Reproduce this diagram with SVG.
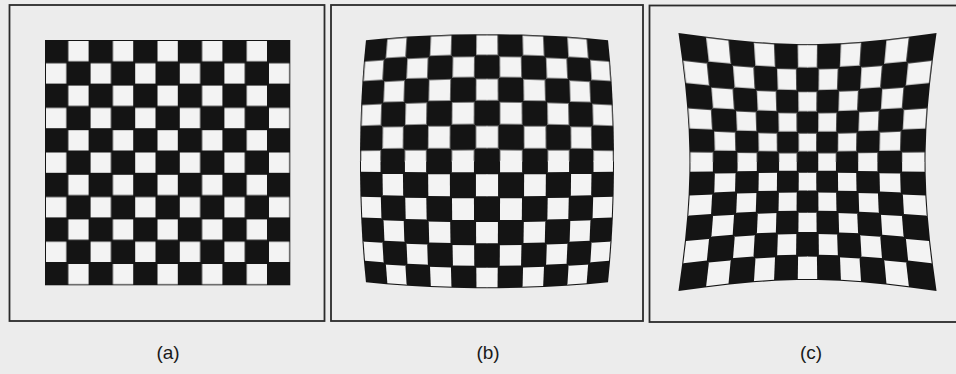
<svg xmlns="http://www.w3.org/2000/svg" xmlns:xlink="http://www.w3.org/1999/xlink" width="956" height="374" viewBox="0 0 956 374">
<style>
.frame{fill:none;stroke:#2b2b2b;stroke-width:1.8}
.blk{fill:#141414}
.wht{fill:#f3f3f3}
.lbl{font-family:"Liberation Sans",Arial,sans-serif;font-size:19px;fill:#1a1a1a;text-anchor:middle}
</style>
<defs>
<pattern id="chk" patternUnits="userSpaceOnUse" x="45" y="40" width="44.6" height="44.6">
<rect class="wht" x="23.3" y="1" width="20.3" height="20.3"/>
<rect class="wht" x="1" y="23.3" width="20.3" height="20.3"/>
</pattern>
<filter id="bleed" x="-5%" y="-5%" width="110%" height="110%">
<feMorphology operator="erode" radius="0.9"/>
</filter>
<!-- barrel quadrant white cells (unit coords x100) -->
<g id="bq-white" class="wht">
<polygon points="9.09,-1 27.18,-1 27.17,9.06 9.08,9.08"/>
<polygon points="45.03,-1 62.48,-1 62.45,8.92 45.02,9"/>
<polygon points="79.35,-1 95.5,-1 95.46,8.68 79.32,8.81"/>
<polygon points="-1,9.09 9.08,9.08 9.06,27.17 -1,27.18"/>
<polygon points="27.17,9.06 45.02,9 44.88,26.93 27.09,27.09"/>
<polygon points="62.45,8.92 79.32,8.81 79.08,26.36 62.26,26.68"/>
<polygon points="9.06,27.17 27.09,27.09 26.93,44.88 9,45.02"/>
<polygon points="44.88,26.93 62.26,26.68 61.88,44.2 44.61,44.61"/>
<polygon points="79.08,26.36 95.17,25.95 94.57,42.99 78.59,43.66"/>
<polygon points="-1,45.03 9,45.02 8.92,62.45 -1,62.48"/>
<polygon points="26.93,44.88 44.61,44.61 44.2,61.88 26.68,62.26"/>
<polygon points="61.88,44.2 78.59,43.66 77.86,60.56 61.32,61.32"/>
<polygon points="8.92,62.45 26.68,62.26 26.36,79.08 8.81,79.32"/>
<polygon points="44.2,61.88 61.32,61.32 60.56,77.86 43.66,78.59"/>
<polygon points="77.86,60.56 93.68,59.61 92.49,75.67 76.89,76.89"/>
<polygon points="-1,79.35 8.81,79.32 8.68,95.46 -1,95.5"/>
<polygon points="26.36,79.08 43.66,78.59 42.99,94.57 25.95,95.17"/>
<polygon points="60.56,77.86 76.89,76.89 75.67,92.49 59.61,93.68"/>
</g>
<!-- pincushion quadrant white cells (unit coords x100) -->
<g id="pq-white" class="wht">
<polygon points="9.1,-1 27.48,-1 27.51,9.17 9.11,9.11"/>
<polygon points="46.42,-1 66.29,-1 66.34,9.48 46.46,9.29"/>
<polygon points="87.46,-1 110.3,-1 110.39,10.04 87.53,9.73"/>
<polygon points="-1,9.1 9.11,9.11 9.17,27.51 -1,27.48"/>
<polygon points="27.51,9.17 46.46,9.29 46.77,28.06 27.69,27.69"/>
<polygon points="66.34,9.48 87.53,9.73 88.09,29.36 66.78,28.62"/>
<polygon points="9.17,27.51 27.69,27.69 28.06,46.77 9.29,46.46"/>
<polygon points="46.77,28.06 66.78,28.62 67.64,48.32 47.39,47.39"/>
<polygon points="88.09,29.36 111.07,30.29 112.43,51.1 89.2,49.56"/>
<polygon points="-1,46.42 9.29,46.46 9.48,66.34 -1,66.29"/>
<polygon points="28.06,46.77 47.39,47.39 48.32,67.64 28.62,66.78"/>
<polygon points="67.64,48.32 89.2,49.56 90.87,70.68 68.94,68.94"/>
<polygon points="9.48,66.34 28.62,66.78 29.36,88.09 9.73,87.53"/>
<polygon points="48.32,67.64 68.94,68.94 70.68,90.87 49.56,89.2"/>
<polygon points="90.87,70.68 114.47,72.85 117.2,95.89 93.1,93.1"/>
<polygon points="-1,87.46 9.73,87.53 10.04,110.39 -1,110.3"/>
<polygon points="29.36,88.09 49.56,89.2 51.1,112.43 30.29,111.07"/>
<polygon points="70.68,90.87 93.1,93.1 95.89,117.2 72.85,114.47"/>
</g>
</defs>
<rect x="0" y="0" width="956" height="374" fill="#ececec"/>

<g id="panel-a">
<rect class="frame" x="9.5" y="5" width="315" height="316"/>
<rect class="blk" x="45" y="40" width="245.3" height="245.3"/>
<rect x="45" y="40" width="245.3" height="245.3" fill="url(#chk)"/>
</g>

<g id="panel-b">
<rect class="frame" x="331" y="5" width="312" height="316"/>
<polygon class="blk" transform="translate(487,161.2) scale(1.33)" points="0,-95.5 8.68,-95.46 25.95,-95.17 42.99,-94.57 59.61,-93.68 75.67,-92.49 91,-91 92.49,-75.67 93.68,-59.61 94.57,-42.99 95.17,-25.95 95.46,-8.68 95.5,0 95.46,8.68 95.17,25.95 94.57,42.99 93.68,59.61 92.49,75.67 91,91 75.67,92.49 59.61,93.68 42.99,94.57 25.95,95.17 8.68,95.46 0,95.5 -8.68,95.46 -25.95,95.17 -42.99,94.57 -59.61,93.68 -75.67,92.49 -91,91 -92.49,75.67 -93.68,59.61 -94.57,42.99 -95.17,25.95 -95.46,8.68 -95.5,0 -95.46,-8.68 -95.17,-25.95 -94.57,-42.99 -93.68,-59.61 -92.49,-75.67 -91,-91 -75.67,-92.49 -59.61,-93.68 -42.99,-94.57 -25.95,-95.17 -8.68,-95.46"/>
<g filter="url(#bleed)">
<g transform="translate(487,161.2) scale(1.33)">
<use xlink:href="#bq-white"/>
<use xlink:href="#bq-white" transform="scale(-1,1)"/>
<use xlink:href="#bq-white" transform="scale(1,-1)"/>
<use xlink:href="#bq-white" transform="scale(-1,-1)"/>
</g>
</g>
</g>

<g id="panel-c">
<rect class="frame" x="649.5" y="5.5" width="312" height="316.5"/>
<polygon class="blk" transform="translate(807.5,162) scale(1.07)" points="0,-110.3 10.04,-110.39 30.29,-111.07 51.1,-112.43 72.85,-114.47 95.89,-117.2 120.6,-120.6 117.2,-95.89 114.47,-72.85 112.43,-51.1 111.07,-30.29 110.39,-10.04 110.3,0 110.39,10.04 111.07,30.29 112.43,51.1 114.47,72.85 117.2,95.89 120.6,120.6 95.89,117.2 72.85,114.47 51.1,112.43 30.29,111.07 10.04,110.39 0,110.3 -10.04,110.39 -30.29,111.07 -51.1,112.43 -72.85,114.47 -95.89,117.2 -120.6,120.6 -117.2,95.89 -114.47,72.85 -112.43,51.1 -111.07,30.29 -110.39,10.04 -110.3,0 -110.39,-10.04 -111.07,-30.29 -112.43,-51.1 -114.47,-72.85 -117.2,-95.89 -120.6,-120.6 -95.89,-117.2 -72.85,-114.47 -51.1,-112.43 -30.29,-111.07 -10.04,-110.39"/>
<g filter="url(#bleed)">
<g transform="translate(807.5,162) scale(1.07)">
<use xlink:href="#pq-white"/>
<use xlink:href="#pq-white" transform="scale(-1,1)"/>
<use xlink:href="#pq-white" transform="scale(1,-1)"/>
<use xlink:href="#pq-white" transform="scale(-1,-1)"/>
</g>
</g>
</g>

<g id="labels">
<text class="lbl" x="168" y="359">(a)</text>
<text class="lbl" x="488" y="359">(b)</text>
<text class="lbl" x="811" y="359">(c)</text>
</g>
</svg>
